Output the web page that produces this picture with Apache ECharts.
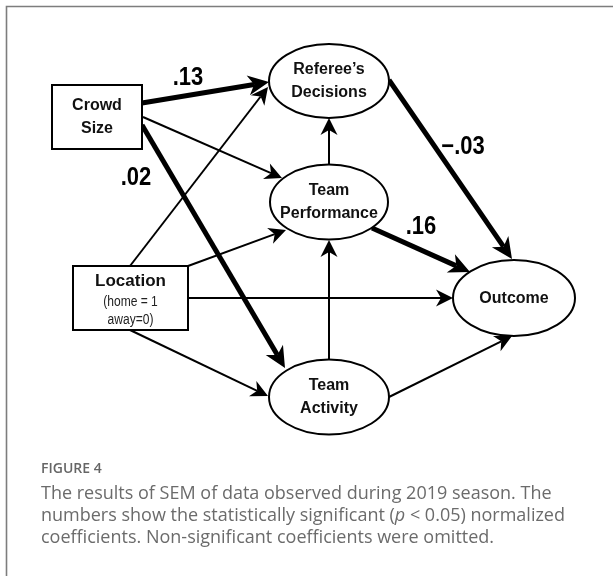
<!DOCTYPE html>
<html>
<head>
<meta charset="utf-8">
<script src="https://cdn.jsdelivr.net/npm/echarts@6/dist/echarts.min.js"></script>
<style>
html,body{margin:0;padding:0;background:#fff;}
#chart{width:613px;height:576px;}
</style>
</head>
<body>
<div id="chart"></div>
<script>
// ---------- DATA ----------
const variables = ['Crowd Size', 'Location', 'Referee\u2019s Decisions', 'Team Performance', 'Team Activity', 'Outcome'];
const variableNotes = ['', '(home = 1\naway=0)', '', '', '', ''];
const pathSource = ['Crowd Size', 'Crowd Size', 'Crowd Size', 'Location', 'Location', 'Location', 'Location',
  'Team Performance', 'Team Activity', 'Referee\u2019s Decisions', 'Team Performance', 'Team Activity'];
const pathTarget = ['Referee\u2019s Decisions', 'Team Performance', 'Team Activity', 'Referee\u2019s Decisions',
  'Team Performance', 'Outcome', 'Team Activity', 'Referee\u2019s Decisions', 'Team Performance', 'Outcome', 'Outcome', 'Outcome'];
// normalized coefficients; null = non-significant (omitted)
const pathCoefficient = [0.13, null, 0.02, null, null, null, null, null, null, -0.03, 0.16, null];
const figureLabel = 'FIGURE 4';
const captionLines = [
  'The results of SEM of data observed during 2019 season. The',
  'numbers show the statistically significant ({i|p} < 0.05) normalized',
  'coefficients. Non-significant coefficients were omitted.'
];

// ---------- LAYOUT (diagram units, mapped through hidden value axes) ----------
const nodeLayout = {
  'Crowd Size':            { shape: 'rect',    cx: 97,    cy: 117, w: 90,  h: 64 },
  'Location':              { shape: 'rect',    cx: 130.5, cy: 298, w: 115, h: 64 },
  'Referee\u2019s Decisions': { shape: 'ellipse', cx: 329, cy: 81,  w: 120, h: 74 },
  'Team Performance':      { shape: 'ellipse', cx: 329,   cy: 202, w: 118, h: 75 },
  'Team Activity':         { shape: 'ellipse', cx: 329,   cy: 397, w: 120, h: 75 },
  'Outcome':               { shape: 'ellipse', cx: 514,   cy: 298, w: 122, h: 76 }
};
// edge anchor points (start on source border, tip on target border) and label anchors
const edgeLayout = [
  { from: [142, 103], to: [269, 82],  label: [188, 78] },
  { from: [143, 117], to: [282, 178] },
  { from: [142, 125], to: [285, 368], label: [136, 178] },
  { from: [130, 266], to: [268, 87] },
  { from: [188, 266], to: [286, 230] },
  { from: [188, 298], to: [453, 298] },
  { from: [130, 330], to: [268, 396] },
  { from: [329, 165], to: [329, 118] },
  { from: [329, 360], to: [329, 240] },
  { from: [389, 80],  to: [512, 259], label: [463, 147] },
  { from: [372, 228], to: [470, 272], label: [421, 227] },
  { from: [389, 397], to: [512, 336] }
];

function fmtCoef(v) {
  const s = Math.abs(v).toFixed(2).replace(/^0/, '');
  return (v < 0 ? '\u2212' : '') + s;
}

const edgeData = pathSource.map((s, i) => {
  const L = edgeLayout[i];
  const sig = pathCoefficient[i] !== null ? 1 : 0;
  return {
    name: s + ' \u2192 ' + pathTarget[i],
    value: [L.from[0], L.from[1], L.to[0], L.to[1], sig,
      L.label ? L.label[0] : 0, L.label ? L.label[1] : 0, i]
  };
});

const nodeData = variables.map((v, i) => {
  const N = nodeLayout[v];
  return { name: v, value: [N.cx, N.cy, N.w, N.h, i] };
});

function renderEdge(params, api) {
  const a = api.coord([api.value(0), api.value(1)]);
  const b = api.coord([api.value(2), api.value(3)]);
  const sig = api.value(4) === 1;
  const idx = api.value(7);
  const lw = sig ? 5 : 2;
  const AL = sig ? 21 : 17, AH = sig ? 10 : 8.5, AN = sig ? 6 : 5;
  const dx = b[0] - a[0], dy = b[1] - a[1];
  const len = Math.hypot(dx, dy);
  const ux = dx / len, uy = dy / len, nx = -uy, ny = ux;
  const base = [b[0] - ux * AL, b[1] - uy * AL];
  const notch = [b[0] - ux * (AL - AN), b[1] - uy * (AL - AN)];
  const children = [
    { type: 'line', shape: { x1: a[0], y1: a[1], x2: notch[0], y2: notch[1] },
      style: { stroke: '#000', lineWidth: lw, lineCap: 'butt' } },
    { type: 'polygon', shape: { points: [b, [base[0] + nx * AH, base[1] + ny * AH], notch, [base[0] - nx * AH, base[1] - ny * AH]] },
      style: { fill: '#000' } }
  ];
  if (sig) {
    const p = api.coord([api.value(5), api.value(6)]);
    children.push({
      type: 'text', x: p[0], y: p[1], scaleX: 0.88,
      style: { text: fmtCoef(pathCoefficient[idx]), x: 0, y: 0,
        font: 'bold 25px "Liberation Sans", Arial, sans-serif', fill: '#000',
        align: 'center', verticalAlign: 'middle', textAlign: 'center', textVerticalAlign: 'middle' }
    });
  }
  return { type: 'group', children: children };
}

function textEl(x, y, str, font) {
  return { type: 'text', x: x, y: y,
    style: { text: str, x: 0, y: 0, font: font, fill: '#111',
      align: 'center', verticalAlign: 'middle', textAlign: 'center', textVerticalAlign: 'middle' } };
}

function renderNode(params, api) {
  const c = api.coord([api.value(0), api.value(1)]);
  const sz = api.size([api.value(2), api.value(3)]);
  const i = api.value(4);
  const name = variables[i];
  const N = nodeLayout[name];
  const children = [];
  if (N.shape === 'rect') {
    children.push({ type: 'rect', shape: { x: c[0] - sz[0] / 2, y: c[1] - sz[1] / 2, width: sz[0], height: sz[1] },
      style: { fill: '#fff', stroke: '#000', lineWidth: 2 } });
  } else {
    children.push({ type: 'ellipse', shape: { cx: c[0], cy: c[1], rx: sz[0] / 2, ry: sz[1] / 2 },
      style: { fill: '#fff', stroke: '#000', lineWidth: 2 } });
  }
  const bold = 'bold 16px "Liberation Sans", Arial, sans-serif';
  const note = variableNotes[i];
  if (note) {
    const nl = note.split('\n');
    children.push(textEl(c[0], c[1] - 17, name, 'bold 17px "Liberation Sans", Arial, sans-serif'));
    nl.forEach((t, k) => {
      const el = textEl(c[0], c[1] + 4 + k * 18, t, '14px "Liberation Sans", Arial, sans-serif');
      el.scaleX = 0.86;
      el.style.fill = '#222';
      children.push(el);
    });
  } else {
    const words = name.split(' ');
    if (words.length === 1) {
      children.push(textEl(c[0], c[1] + 1, words[0], bold));
    } else {
      children.push(textEl(c[0], c[1] - 11.5, words[0], bold));
      children.push(textEl(c[0], c[1] + 11.5, words.slice(1).join(' '), bold));
    }
  }
  return { type: 'group', children: children };
}

const captionFont = '"Open Sans", "Noto Sans", sans-serif';
const titles = [{
  text: figureLabel, left: 41, top: 460, padding: 0,
  textStyle: { fontFamily: captionFont, fontSize: 14, fontWeight: 600, color: '#666', lineHeight: 18 }
}].concat(captionLines.map((t, k) => ({
  text: t, left: 41, top: 483 + k * 22, padding: 0,
  textStyle: { fontFamily: captionFont, fontSize: 18, fontWeight: 'normal', color: '#6b6b6b', lineHeight: 22,
    rich: { i: { fontFamily: captionFont, fontSize: 18, fontStyle: 'italic', color: '#6b6b6b', lineHeight: 22 } } }
})));

const chart = echarts.init(document.getElementById('chart'), null, { renderer: 'canvas' });
chart.setOption({
  animation: false,
  backgroundColor: '#fff',
  title: titles,
  graphic: [{
    type: 'polyline', silent: true,
    shape: { points: [[6.5, 600], [6.5, 6.5], [620, 6.5]] },
    style: { stroke: '#7d7d7d', lineWidth: 1.6, fill: null }
  }],
  grid: { left: 0, right: 0, top: 0, bottom: 0 },
  xAxis: { type: 'value', min: 0, max: 613, show: false },
  yAxis: { type: 'value', min: 0, max: 576, inverse: true, show: false },
  series: [
    { type: 'custom', name: 'paths', renderItem: renderEdge, data: edgeData, clip: false, z: 2 },
    { type: 'custom', name: 'variables', renderItem: renderNode, data: nodeData, clip: false, z: 3 }
  ]
});
</script>
</body>
</html>
